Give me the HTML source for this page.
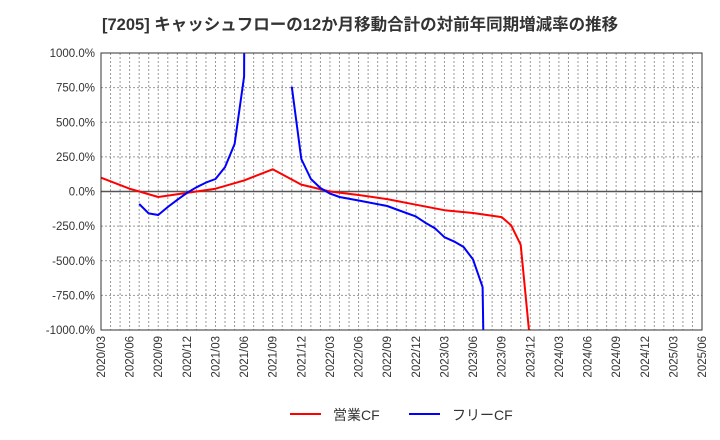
<!DOCTYPE html>
<html><head><meta charset="utf-8"><style>
html,body{margin:0;padding:0;background:#fff;width:720px;height:440px;overflow:hidden;}
svg{display:block;font-family:"Liberation Sans","Noto Sans CJK JP",sans-serif;}
</style></head><body>
<svg id="chart" width="720" height="440">
<text x="102" y="30" font-size="16.5" font-weight="bold" fill="#333">[7205]  キャッシュフローの12か月移動合計の対前年同期増減率の推移</text>
<g id="grid"></g><g id="axes"></g>
<defs><clipPath id="clip"><rect x="101" y="53" width="601" height="277"/></clipPath></defs>
<g id="series" clip-path="url(#clip)"></g>
<rect x="101" y="53" width="601" height="277" fill="none" stroke="#333" stroke-width="1"/>
<g>
<line x1="290" y1="414" x2="321" y2="414" stroke="#f00" stroke-width="2"/>
<text x="333" y="420" font-size="14" fill="#333">営業CF</text>
<line x1="409" y1="414" x2="440" y2="414" stroke="#00f" stroke-width="2"/>
<text x="452" y="420" font-size="14" fill="#333">フリーCF</text>
</g>
</svg>
<script>
// month index from 2020/03 (0)
const yTicks=[1000,750,500,250,0,-250,-500,-750,-1000];
const xTickLabels=["2020/03","2020/06","2020/09","2020/12","2021/03","2021/06","2021/09","2021/12","2022/03","2022/06","2022/09","2022/12","2023/03","2023/06","2023/09","2023/12","2024/03","2024/06","2024/09","2024/12","2025/03","2025/06"];
const opMonths=[0,3,6,9,12,15,18,21,24,27,30,33,36,39,42,43,44,45];
const opValues=[100,20,-40,-10,20,80,160,50,0,-25,-55,-95,-135,-155,-185,-245,-385,-1100];
const freeMonths=[4,5,6,7,8,9,10,11,12,13,14,15,16,  20,21,22,23,24,25,27,30,31,33,34,35,36,37,38,39,40,41];
const freeValues=[-90,-158,-170,-112,-60,-10,30,64,90,176,343,830,20000,  757,235,90,25,-15,-40,-65,-105,-130,-180,-225,-265,-330,-360,-400,-490,-690,-5000];
const freeBreakAfter=16;

const X0=101,X1=702,Y0=53,Y1=330,NM=63;
const xs=m=>X0+(X1-X0)*m/NM;
const ys=v=>Y0+(Y1-Y0)*(1000-v)/2000;
const NS="http://www.w3.org/2000/svg";
function mk(t,a,p){const e=document.createElementNS(NS,t);for(const k in a)e.setAttribute(k,a[k]);p.appendChild(e);return e;}
const grid=document.getElementById('grid'),axes=document.getElementById('axes'),ser=document.getElementById('series');
for(let m=1;m<NM;m++){
 const l=mk('line',{x1:xs(m),x2:xs(m),y1:Y0,y2:Y1,stroke:'#999','stroke-width':1,'stroke-dasharray':'2,2'},grid);
 
 
}
yTicks.forEach(v=>{
 if(v!==1000&&v!==-1000){
  const l=mk('line',{x1:X0,x2:X1,y1:ys(v),y2:ys(v),stroke:v===0?'#555':'#999','stroke-width':v===0?1.5:1,'stroke-dasharray':v===0?'':'2,2'},grid);
  
  
 }
 const t=mk('text',{x:X0-6,y:ys(v)+4,'text-anchor':'end','font-size':11.5,fill:'#333'},axes);
 t.textContent=v.toFixed(1)+'%';
 
 
});
xTickLabels.forEach((s,i)=>{
 const x=xs(i*3);
 const t=mk('text',{x:0,y:0,transform:`translate(${x+4},${Y1+6}) rotate(-90)`,'text-anchor':'end','font-size':11.5,fill:'#333'},axes);
 t.textContent=s;
 
 
});
function path(ms,vs,col,name){
 const d=ms.map((m,i)=>(i?'L':'M')+xs(m).toFixed(1)+','+ys(vs[i]).toFixed(1)).join('');
 const p=mk('path',{d:d,fill:'none',stroke:col,'stroke-width':2,'stroke-linejoin':'round'},ser);
 
 
}
path(opMonths,opValues,'#f00','operating-cf-line');
const b=freeMonths.indexOf(freeBreakAfter)+1;
path(freeMonths.slice(0,b),freeValues.slice(0,b),'#00f','free-cf-line-1');
path(freeMonths.slice(b),freeValues.slice(b),'#00f','free-cf-line-2');
</script>
</body></html>
